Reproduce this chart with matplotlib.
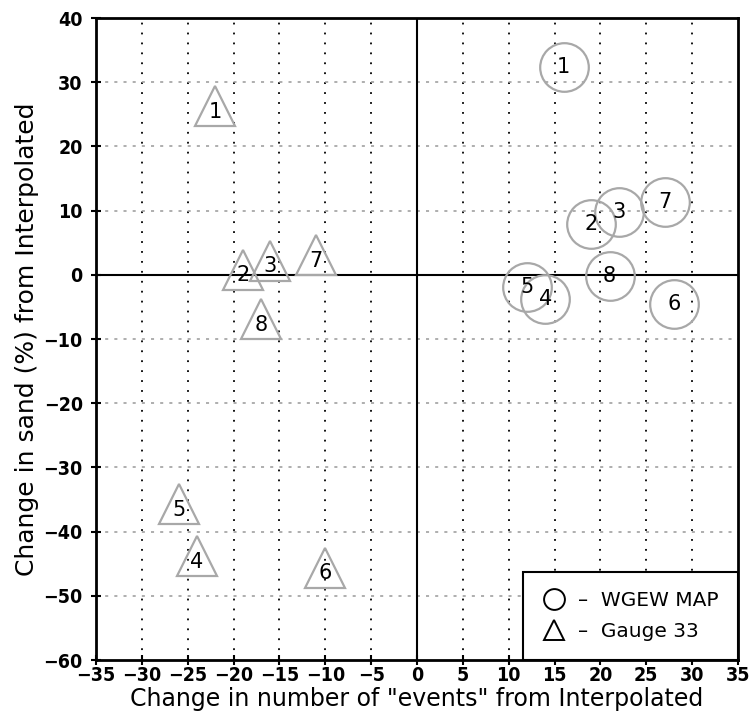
import matplotlib.pyplot as plt
from matplotlib.lines import Line2D

# WGEW MAP (circles) and Gauge 33 (triangles), one point per event id
ids = ["1", "2", "3", "4", "5", "6", "7", "8"]
map_events = [16, 19, 22, 14, 12, 28, 27, 21]
map_sand = [32.4, 8.0, 9.8, -3.7, -1.9, -4.5, 11.4, -0.2]
gauge_events = [-22, -19, -16, -24, -26, -10, -11, -17]
gauge_sand = [26.3, 0.8, 2.2, -43.8, -35.7, -45.6, 3.1, -6.9]

x_ticks = list(range(-35, 36, 5))
y_ticks = list(range(-60, 41, 10))

plt.rcParams["font.family"] = ["DejaVu Sans"]

fig = plt.figure(figsize=(7.5, 7.23), dpi=100)
ax = fig.add_axes([0.128, 0.087, 0.856, 0.888])

gray = "#a8a8a8"

# grid: black dotted verticals, gray dotted horizontals
for xv in x_ticks[1:-1]:
    if xv != 0:
        ax.axvline(xv, color="black", lw=1.3, ls=(0, (1, 4.5)), zorder=1)
for yv in y_ticks[1:-1]:
    if yv != 0:
        ax.axhline(yv, color="#999999", lw=1.1, ls=(0, (2, 4)), zorder=1)
ax.axhline(0, color="black", lw=1.5, zorder=2)
ax.axvline(0, color="black", lw=1.5, zorder=2)

ax.plot(map_events, map_sand, ls="none", marker="o", ms=35, mfc="none",
        mec=gray, mew=1.6, zorder=3)
ax.plot(gauge_events, gauge_sand, ls="none", marker="^", ms=29, mfc="none",
        mec=gray, mew=1.6, zorder=3)

for i, x, y in zip(ids, map_events, map_sand):
    ax.text(x, y, i, ha="center", va="center", fontsize=15, zorder=4)
for i, x, y in zip(ids, gauge_events, gauge_sand):
    ax.annotate(i, (x, y), xytext=(0, -4), textcoords="offset points",
                ha="center", va="center", fontsize=15, zorder=4)

ax.set_xlim(-35, 35)
ax.set_ylim(-60, 40)
ax.set_xticks(x_ticks)
ax.set_yticks(y_ticks)
ax.set_xticklabels([str(v).replace("-", "\u2212") for v in x_ticks],
                   fontsize=14, fontweight="bold", fontstretch="condensed")
ax.set_yticklabels([str(v).replace("-", "\u2212") for v in y_ticks],
                   fontsize=14, fontweight="bold", fontstretch="condensed")
ax.tick_params(direction="inout", length=7, width=1.5)
ax.tick_params(axis="y", pad=6)
ax.tick_params(axis="x", pad=1)
for s in ax.spines.values():
    s.set_linewidth(2)

ax.set_xlabel('Change in number of "events" from Interpolated', fontsize=17,
              labelpad=1)
ax.set_ylabel("Change in sand (%) from Interpolated", fontsize=18,
              labelpad=3)

handles = [
    Line2D([], [], ls="none", marker="o", ms=15, mfc="none", mec="black", mew=1.4),
    Line2D([], [], ls="none", marker="^", ms=15, mfc="none", mec="black", mew=1.4),
]
leg = ax.legend(handles, ["\u2013  WGEW MAP", "\u2013  Gauge 33"],
                loc="lower right", bbox_to_anchor=(1, 0), borderaxespad=0,
                fontsize=14.5, fancybox=False, framealpha=1, edgecolor="black",
                handletextpad=0.6, borderpad=0.95, labelspacing=0.6,
                handlelength=1.2)
leg.get_frame().set_linewidth(1.5)
leg.set_zorder(5)

fig.savefig("out.png", dpi=100)
